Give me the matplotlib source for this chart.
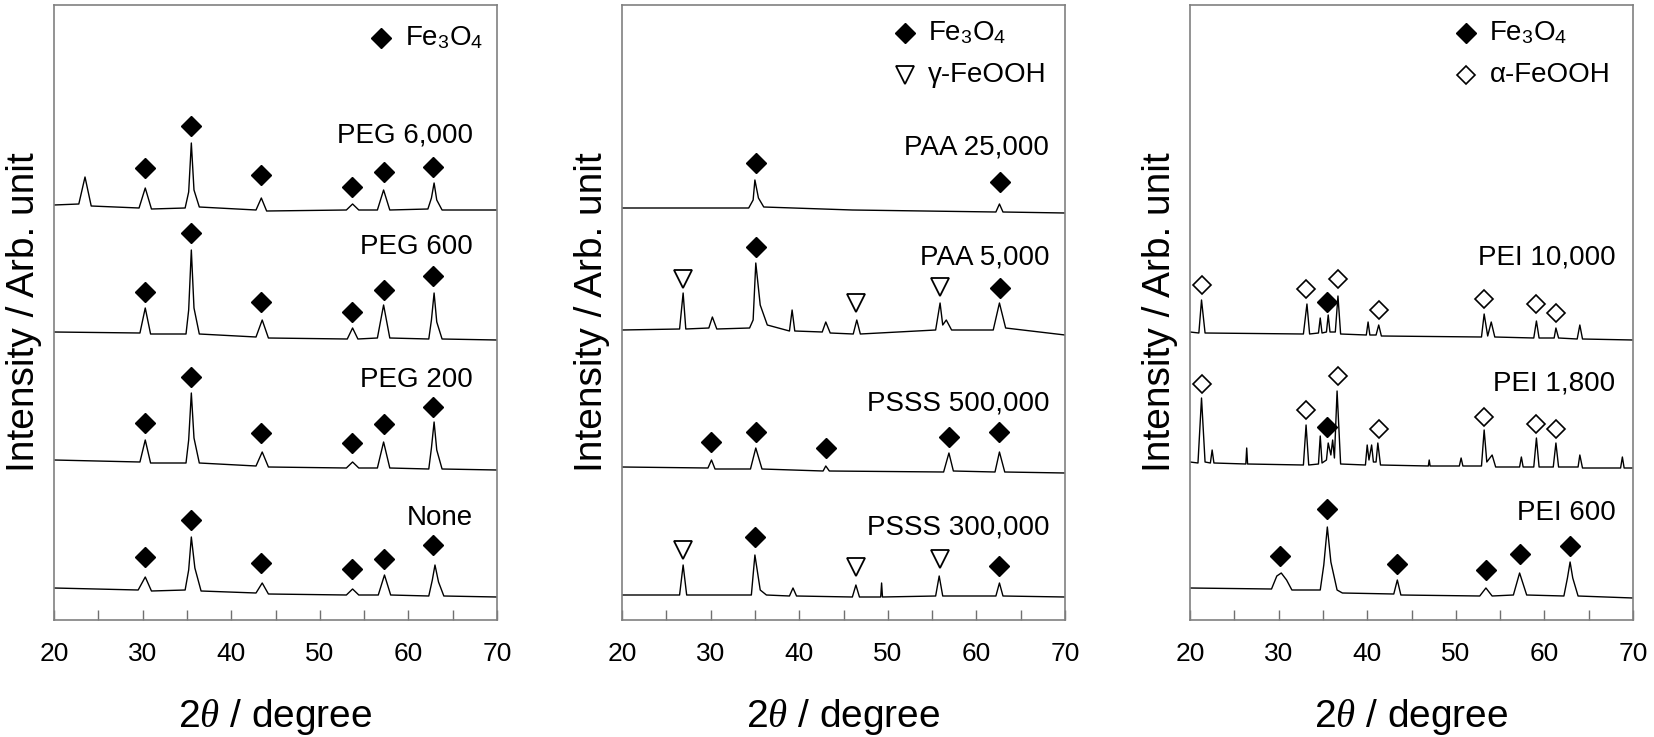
import matplotlib
matplotlib.use("Agg")
import matplotlib.pyplot as plt
from matplotlib.ticker import MultipleLocator, NullFormatter

plt.rcParams['font.family'] = ['Liberation Sans', 'DejaVu Sans']
plt.rcParams['mathtext.fontset'] = 'custom'
plt.rcParams['mathtext.rm'] = 'Liberation Sans'
plt.rcParams['mathtext.it'] = 'Liberation Serif:italic'

# ---- panel 1 : PEG (2theta, intensity) ----
peg6000_x = [20, 22.8, 23.5, 24.2, 29.6, 30.3, 31.0, 34.8, 35.2, 35.5, 35.8, 36.4,
             42.8, 43.4, 44.0, 53.0, 53.7, 54.4, 56.5, 57.2, 57.9, 62.2, 62.6, 62.9,
             63.2, 63.8, 70]
peg6000_y = [415, 416, 443, 414, 412, 432, 411, 412, 428, 477, 430, 413,
             410, 422, 409, 410, 416, 410, 410, 430, 410, 411, 422, 437,
             420, 410, 410]
peg600_x = [20, 29.7, 30.3, 30.9, 34.9, 35.2, 35.5, 35.8, 36.4, 42.8, 43.5, 44.2,
            53.1, 53.7, 54.3, 56.5, 57.2, 57.9, 62.3, 62.6, 62.9, 63.2, 63.8, 70]
peg600_y = [288, 287, 312, 286, 286, 310, 370, 312, 286, 283, 300, 282,
            281, 292, 281, 282, 315, 282, 281, 300, 327, 298, 281, 280]
peg200_x = [20, 29.7, 30.3, 30.9, 34.9, 35.2, 35.5, 35.8, 36.4, 42.8, 43.5, 44.2,
            53.0, 53.7, 54.4, 56.5, 57.2, 57.9, 62.3, 62.6, 62.9, 63.2, 63.8, 70]
peg200_y = [160, 158, 180, 157, 157, 180, 227, 182, 157, 154, 168, 153,
            152, 158, 152, 152, 178, 152, 151, 172, 198, 170, 151, 150]
none_x = [20, 29.5, 30.3, 31.0, 34.8, 35.2, 35.5, 35.9, 36.6, 42.8, 43.5, 44.2,
          53.0, 53.7, 54.4, 56.6, 57.3, 58.0, 62.3, 62.7, 63.0, 63.4, 64.0, 70]
none_y = [32, 30, 43, 29, 30, 50, 83, 52, 29, 27, 37, 26,
          25, 31, 25, 25, 45, 25, 24, 40, 55, 38, 24, 23]

p1_fe_x = [30.3, 35.5, 43.4, 53.6, 57.2, 62.8]
p1_fe_y = {'PEG 6,000': [452, 494, 445, 433, 448, 453],
           'PEG 600': [328, 387, 318, 308, 330, 344],
           'PEG 200': [197, 243, 187, 177, 196, 213],
           'None': [63, 100, 57, 51, 61, 75]}
p1_label_y = [485, 373, 240, 102]

# ---- panel 2 : PAA / PSSS ----
paa25k_x = [20, 34.3, 34.8, 35.0, 35.4, 36.0, 46, 62.2, 62.6, 63.0, 70]
paa25k_y = [412, 412, 420, 440, 422, 413, 410, 408, 416, 408, 407]
paa5k_x = [20, 26.5, 26.9, 27.2, 29.8, 30.2, 30.7, 34.4, 34.8, 35.1, 35.6, 36.4,
           38.9, 39.2, 39.5, 42.6, 43.0, 43.5, 46.1, 46.5, 46.9, 55.4, 55.9, 56.2,
           56.6, 57.2, 61.9, 62.6, 63.3, 70]
paa5k_y = [290, 291, 327, 291, 292, 303, 291, 292, 300, 357, 315, 295,
           289, 310, 289, 288, 298, 287, 286, 300, 286, 290, 317, 295,
           300, 290, 290, 317, 292, 285]
psss500k_x = [20, 29.7, 30.1, 30.5, 34.5, 35.1, 35.8, 42.7, 43.0, 43.4, 56.3, 56.9, 57.4,
              62.1, 62.6, 63.2, 70]
psss500k_y = [153, 152, 160, 151, 151, 172, 151, 149, 154, 149, 148, 167, 149,
              148, 168, 148, 147]
psss300k_x = [20, 26.5, 26.9, 27.3, 34.6, 35.0, 35.6, 36.3, 38.9, 39.3, 39.7, 46.0, 46.4,
              46.8, 49.2, 49.3, 49.4, 55.4, 55.8, 56.2, 62.2, 62.6, 63.0, 70]
psss300k_y = [25, 25, 55, 25, 25, 65, 30, 25, 24, 32, 24, 23, 35,
              23, 23, 37, 23, 24, 44, 24, 24, 37, 24, 23]

p2_fe_x = {'PAA 25,000': [35.1, 62.7], 'PAA 5,000': [35.1, 62.7],
           'PSSS 500,000': [30.1, 35.1, 43.0, 56.9, 62.6], 'PSSS 300,000': [35.0, 62.6]}
p2_fe_y = {'PAA 25,000': [457, 438], 'PAA 5,000': [373, 332],
           'PSSS 500,000': [178, 188, 172, 183, 188], 'PSSS 300,000': [83, 54]}
p2_gam_x = {'PAA 5,000': [26.9, 46.4, 55.9], 'PSSS 300,000': [26.9, 46.4, 55.9]}
p2_gam_y = {'PAA 5,000': [341, 317, 333], 'PSSS 300,000': [70, 53, 61]}
p2_label_y = [473, 363, 217, 93]

# ---- panel 3 : PEI ----
pei10k_x = [20, 21.0, 21.3, 21.7, 32.8, 33.2, 33.5, 34.5, 34.7, 34.9, 35.4, 35.6, 35.8,
            36.4, 36.7, 37.0, 39.9, 40.1, 40.3, 41.0, 41.3, 41.6, 52.9, 53.2, 53.6,
            54.0, 54.4, 58.8, 59.1, 59.4, 61.1, 61.3, 61.6, 63.7, 64.0, 64.3, 70]
pei10k_y = [288, 287, 320, 287, 286, 316, 286, 287, 302, 287, 288, 305, 288,
            288, 324, 286, 285, 298, 285, 285, 295, 284, 283, 306, 284,
            298, 283, 282, 299, 282, 282, 292, 282, 281, 295, 281, 280]
pei1800_x = [20, 20.9, 21.3, 21.7, 22.3, 22.5, 22.7, 26.3, 26.4, 26.5, 32.8, 33.1, 33.4,
             34.5, 34.7, 34.9, 35.4, 35.6, 35.9, 36.1, 36.3, 36.6, 37.0, 39.8, 40.0,
             40.2, 40.5, 40.7, 41.0, 41.2, 41.5, 46.9, 47.0, 47.1, 50.4, 50.6, 50.8,
             52.9, 53.2, 53.5, 54.1, 54.5, 57.2, 57.4, 57.6, 58.8, 59.1, 59.4, 61.0,
             61.3, 61.6, 63.8, 64.0, 64.3, 68.6, 68.8, 69.0, 70]
pei1800_y = [158, 157, 222, 158, 157, 170, 157, 156, 172, 156, 155, 195, 155,
             156, 184, 157, 160, 177, 165, 180, 162, 229, 156, 155, 175,
             160, 175, 158, 158, 177, 155, 154, 160, 154, 154, 162, 154,
             154, 190, 158, 165, 153, 153, 163, 153, 153, 182, 153, 153,
             177, 153, 153, 165, 152, 152, 163, 152, 152]
pei600_x = [20, 29.2, 29.8, 30.3, 30.9, 31.5, 34.7, 35.1, 35.5, 35.9, 36.6, 37.2,
            43.0, 43.4, 43.8, 52.7, 53.4, 54.1, 56.5, 57.2, 58.0, 62.2, 62.6, 62.9,
            63.2, 63.8, 70]
pei600_y = [32, 31, 44, 47, 40, 30, 30, 55, 93, 58, 30, 27,
            26, 40, 25, 24, 32, 24, 25, 47, 25, 24, 42, 58,
            42, 24, 22]

p3_fe_x = {'PEI 10,000': [35.5], 'PEI 1,800': [35.5],
           'PEI 600': [30.2, 35.5, 43.4, 53.4, 57.3, 62.9]}
p3_fe_y = {'PEI 10,000': [318], 'PEI 1,800': [193],
           'PEI 600': [64, 111, 56, 50, 66, 74]}
p3_alpha_x = [21.3, 33.1, 36.7, 41.3, 53.2, 59.1, 61.3]
p3_alpha_y = {'PEI 10,000': [335, 331, 341, 310, 321, 316, 307],
              'PEI 1,800': [236, 210, 244, 191, 203, 196, 191]}
p3_label_y = [363, 237, 107]

FE = r'Fe$_3$O$_4$'
FS = 20  # in-panel text

fig = plt.figure(figsize=(16.54, 7.37), dpi=100)
lefts = [54, 622, 1190]
axes = [fig.add_axes([l / 1654, 117 / 737, 443 / 1654, 615 / 737]) for l in lefts]


def style(ax):
    ax.set_xlim(20, 70)
    ax.set_ylim(0, 615)
    ax.xaxis.set_major_locator(MultipleLocator(10))
    ax.xaxis.set_minor_locator(MultipleLocator(5))
    ax.xaxis.set_minor_formatter(NullFormatter())
    ax.tick_params(axis='x', which='both', direction='in', length=7, width=1,
                   color='#707070', labelsize=19, pad=16)
    ax.set_yticks([])
    for s in ax.spines.values():
        s.set_color('#808080')
        s.set_linewidth(1.2)
    ax.set_xlabel(r'2$\theta$ / degree', fontsize=28, labelpad=22)
    ax.set_ylabel('Intensity / Arb. unit', fontsize=28, labelpad=9)


def fe(ax, x, y):
    ax.plot(x, y, 'D', color='black', ms=10, ls='none')


lw = 1.0
ax = axes[0]
style(ax)
for (x, y) in [(peg6000_x, peg6000_y), (peg600_x, peg600_y),
               (peg200_x, peg200_y), (none_x, none_y)]:
    ax.plot(x, y, color='black', lw=lw)
for name, ly in zip(p1_fe_y, p1_label_y):
    fe(ax, p1_fe_x, p1_fe_y[name])
    ax.text(67.3, ly, name, ha='right', va='center', fontsize=FS)
fe(ax, [56.9], [582])
ax.text(59.6, 582, FE, va='center', fontsize=FS)

ax = axes[1]
style(ax)
for (x, y) in [(paa25k_x, paa25k_y), (paa5k_x, paa5k_y),
               (psss500k_x, psss500k_y), (psss300k_x, psss300k_y)]:
    ax.plot(x, y, color='black', lw=lw)
for name, ly in zip(p2_fe_x, p2_label_y):
    fe(ax, p2_fe_x[name], p2_fe_y[name])
    if name in p2_gam_x:
        ax.plot(p2_gam_x[name], p2_gam_y[name], 'v', mfc='white', mec='black',
                mew=1.3, ms=13, ls='none')
    ax.text(68.2, ly, name, ha='right', va='center', fontsize=FS)
fe(ax, [51.9], [587])
ax.plot([51.9], [545], 'v', mfc='white', mec='black', mew=1.3, ms=13)
ax.text(54.5, 587, FE, va='center', fontsize=FS)
ax.text(54.5, 545, 'γ-FeOOH', va='center', fontsize=FS)

ax = axes[2]
style(ax)
for (x, y) in [(pei10k_x, pei10k_y), (pei1800_x, pei1800_y), (pei600_x, pei600_y)]:
    ax.plot(x, y, color='black', lw=lw)
for name, ly in zip(p3_fe_x, p3_label_y):
    if name in p3_alpha_y:
        ax.plot(p3_alpha_x, p3_alpha_y[name], 'D', mfc='white', mec='black',
                mew=1.2, ms=9, ls='none')
    fe(ax, p3_fe_x[name], p3_fe_y[name])
    ax.text(68.0, ly, name, ha='right', va='center', fontsize=FS)
fe(ax, [51.1], [587])
ax.plot([51.1], [545], 'D', mfc='white', mec='black', mew=1.2, ms=9)
ax.text(53.8, 587, FE, va='center', fontsize=FS)
ax.text(53.8, 545, 'α-FeOOH', va='center', fontsize=FS)

fig.savefig('out.png', dpi=100)
